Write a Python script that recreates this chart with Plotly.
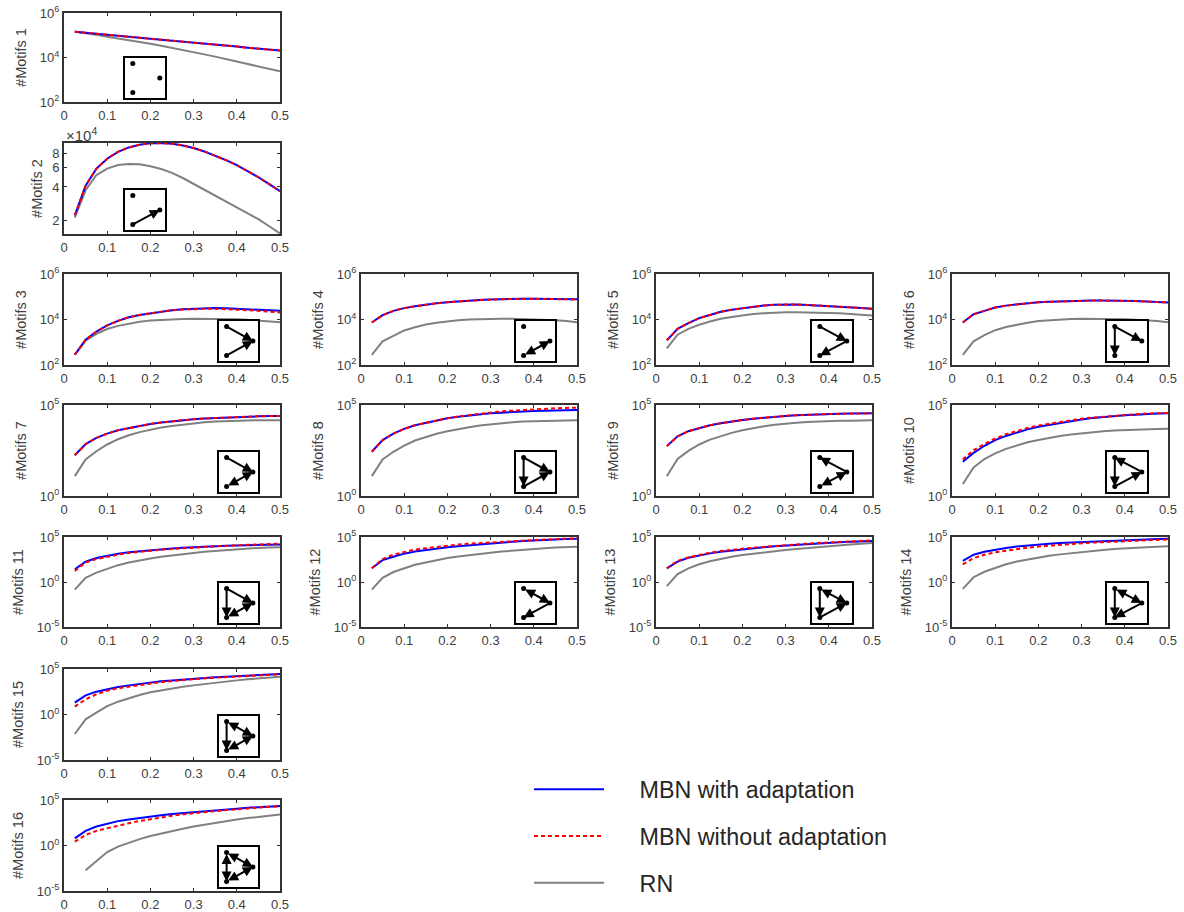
import plotly.graph_objects as go

W, H = 1184, 912

# Density values on the x axis
density = [0.025, 0.05, 0.075, 0.1, 0.125, 0.15, 0.175, 0.2, 0.225, 0.25,
           0.275, 0.3, 0.325, 0.35, 0.375, 0.4, 0.425, 0.45, 0.475, 0.5]

# Motif counts, stored as log10(count)
adapt_1 = [5.16,5.11,5.07,5.02,4.98,4.93,4.89,4.84,4.80,4.76,4.71,4.67,4.62,4.58,4.53,4.49,4.44,4.40,4.35,4.31]
noadapt_1 = [5.16,5.11,5.07,5.02,4.98,4.93,4.89,4.84,4.80,4.76,4.71,4.67,4.62,4.58,4.53,4.49,4.44,4.40,4.35,4.31]
rn_1 = [5.16,5.10,5.02,4.93,4.86,4.79,4.71,4.62,4.53,4.44,4.34,4.24,4.14,4.04,3.93,3.82,3.71,3.60,3.49,3.38]

adapt_2 = [4.346,4.614,4.768,4.858,4.92,4.96,4.985,4.997,4.999,4.994,4.978,4.955,4.923,4.886,4.845,4.80,4.747,4.69,4.628,4.563]
noadapt_2 = [4.346,4.614,4.768,4.858,4.92,4.96,4.985,4.997,4.999,4.994,4.978,4.955,4.923,4.886,4.845,4.80,4.747,4.69,4.628,4.563]
rn_2 = [4.325,4.572,4.71,4.768,4.80,4.81,4.808,4.79,4.765,4.73,4.683,4.63,4.58,4.527,4.474,4.42,4.365,4.31,4.246,4.18]

adapt_3 = [2.45,3.11,3.47,3.74,3.94,4.10,4.20,4.28,4.35,4.41,4.45,4.48,4.50,4.51,4.50,4.48,4.46,4.44,4.41,4.38]
noadapt_3 = [2.45,3.11,3.47,3.74,3.94,4.10,4.20,4.28,4.35,4.41,4.44,4.47,4.47,4.47,4.46,4.44,4.41,4.38,4.35,4.31]
rn_3 = [2.45,3.07,3.37,3.58,3.72,3.82,3.90,3.96,3.99,4.01,4.02,4.03,4.03,4.03,4.02,4.01,3.99,3.96,3.92,3.88]

adapt_4 = [3.87,4.19,4.38,4.50,4.58,4.66,4.71,4.76,4.80,4.83,4.86,4.88,4.90,4.91,4.91,4.91,4.91,4.91,4.90,4.89]
noadapt_4 = [3.87,4.19,4.38,4.50,4.58,4.66,4.71,4.76,4.80,4.83,4.86,4.88,4.90,4.91,4.91,4.91,4.91,4.90,4.89,4.88]
rn_4 = [2.45,3.04,3.28,3.52,3.66,3.78,3.86,3.93,3.97,4.00,4.02,4.03,4.03,4.03,4.02,4.01,3.99,3.97,3.93,3.88]

adapt_5 = [3.08,3.59,3.84,4.06,4.20,4.34,4.43,4.50,4.57,4.62,4.65,4.67,4.66,4.64,4.62,4.60,4.57,4.54,4.51,4.47]
noadapt_5 = [3.08,3.59,3.84,4.06,4.20,4.34,4.43,4.50,4.57,4.62,4.65,4.67,4.66,4.64,4.62,4.60,4.57,4.54,4.51,4.47]
rn_5 = [2.73,3.33,3.59,3.77,3.91,4.03,4.11,4.18,4.24,4.28,4.31,4.32,4.32,4.32,4.31,4.29,4.27,4.25,4.22,4.18]

adapt_6 = [3.87,4.23,4.38,4.53,4.61,4.67,4.72,4.76,4.78,4.80,4.82,4.83,4.83,4.83,4.83,4.82,4.81,4.79,4.77,4.75]
noadapt_6 = [3.87,4.23,4.38,4.53,4.61,4.67,4.72,4.76,4.78,4.80,4.82,4.83,4.83,4.83,4.83,4.82,4.81,4.79,4.77,4.75]
rn_6 = [2.45,3.04,3.31,3.53,3.67,3.78,3.86,3.93,3.97,4.00,4.02,4.03,4.03,4.03,4.02,4.01,3.99,3.97,3.93,3.88]

adapt_7 = [2.24,2.85,3.19,3.43,3.61,3.74,3.86,3.96,4.04,4.11,4.17,4.22,4.26,4.29,4.32,4.34,4.36,4.38,4.39,4.40]
noadapt_7 = [2.24,2.85,3.19,3.43,3.61,3.74,3.86,3.96,4.04,4.11,4.17,4.22,4.26,4.29,4.32,4.34,4.36,4.38,4.39,4.40]
rn_7 = [1.09,2.01,2.46,2.83,3.12,3.34,3.51,3.65,3.76,3.85,3.93,3.99,4.05,4.09,4.12,4.14,4.15,4.16,4.16,4.16]

adapt_8 = [2.43,3.07,3.43,3.69,3.89,4.03,4.16,4.27,4.36,4.43,4.49,4.54,4.58,4.62,4.65,4.67,4.69,4.71,4.72,4.73]
noadapt_8 = [2.43,3.07,3.43,3.69,3.89,4.03,4.16,4.27,4.37,4.45,4.53,4.60,4.65,4.69,4.73,4.76,4.79,4.82,4.84,4.85]
rn_8 = [1.09,2.01,2.43,2.77,3.05,3.25,3.42,3.56,3.68,3.78,3.87,3.94,4.00,4.05,4.09,4.12,4.13,4.14,4.15,4.16]

adapt_9 = [2.74,3.28,3.56,3.74,3.89,4.00,4.10,4.18,4.25,4.31,4.36,4.40,4.44,4.47,4.49,4.51,4.52,4.53,4.54,4.54]
noadapt_9 = [2.74,3.28,3.56,3.74,3.89,4.00,4.10,4.18,4.25,4.31,4.36,4.40,4.44,4.47,4.49,4.51,4.52,4.53,4.54,4.54]
rn_9 = [1.09,2.03,2.48,2.83,3.10,3.30,3.47,3.61,3.73,3.83,3.91,3.98,4.03,4.07,4.10,4.12,4.13,4.14,4.15,4.16]

adapt_10 = [1.88,2.37,2.76,3.07,3.30,3.50,3.66,3.80,3.91,4.01,4.11,4.20,4.28,4.34,4.39,4.43,4.47,4.51,4.53,4.54]
noadapt_10 = [2.01,2.52,2.86,3.16,3.39,3.58,3.74,3.87,3.97,4.07,4.16,4.25,4.31,4.36,4.41,4.45,4.49,4.53,4.55,4.56]
rn_10 = [0.66,1.57,2.03,2.34,2.59,2.79,2.95,3.08,3.20,3.30,3.38,3.45,3.51,3.56,3.60,3.63,3.65,3.67,3.68,3.69]

adapt_11 = [1.42,2.25,2.66,2.92,3.15,3.30,3.42,3.53,3.63,3.72,3.80,3.87,3.93,3.98,4.02,4.06,4.10,4.13,4.15,4.17]
noadapt_11 = [1.23,2.17,2.55,2.81,3.04,3.23,3.37,3.49,3.59,3.68,3.76,3.83,3.91,3.98,4.04,4.09,4.13,4.17,4.21,4.25]
rn_11 = [-0.85,0.47,1.04,1.49,1.87,2.17,2.41,2.62,2.80,2.96,3.10,3.23,3.35,3.45,3.55,3.64,3.72,3.79,3.83,3.87]

adapt_12 = [1.53,2.43,2.81,3.15,3.38,3.57,3.73,3.87,3.98,4.09,4.21,4.32,4.40,4.47,4.55,4.62,4.68,4.74,4.78,4.81]
noadapt_12 = [1.53,2.55,3.04,3.34,3.60,3.75,3.91,4.06,4.16,4.25,4.33,4.40,4.48,4.55,4.61,4.66,4.72,4.77,4.81,4.85]
rn_12 = [-0.85,0.47,1.11,1.53,1.91,2.17,2.43,2.66,2.84,3.00,3.14,3.26,3.38,3.49,3.59,3.68,3.76,3.83,3.87,3.91]

adapt_13 = [1.52,2.27,2.69,2.95,3.18,3.37,3.51,3.64,3.75,3.86,3.96,4.05,4.13,4.20,4.28,4.36,4.42,4.47,4.51,4.55]
noadapt_13 = [1.52,2.35,2.73,3.03,3.26,3.45,3.59,3.71,3.81,3.90,4.00,4.09,4.19,4.28,4.34,4.39,4.45,4.51,4.57,4.62]
rn_13 = [-0.45,0.87,1.52,1.97,2.31,2.58,2.80,2.99,3.15,3.30,3.43,3.56,3.68,3.79,3.89,3.98,4.08,4.17,4.25,4.32]

adapt_14 = [2.35,3.03,3.37,3.60,3.79,3.94,4.06,4.17,4.25,4.32,4.38,4.43,4.49,4.55,4.61,4.66,4.70,4.73,4.77,4.81]
noadapt_14 = [1.97,2.65,3.03,3.30,3.48,3.67,3.81,3.94,4.04,4.13,4.23,4.32,4.38,4.43,4.49,4.55,4.61,4.66,4.70,4.73]
rn_14 = [-0.76,0.53,1.14,1.59,1.97,2.27,2.51,2.73,2.91,3.07,3.21,3.33,3.45,3.56,3.66,3.75,3.81,3.86,3.92,3.98]

adapt_15 = [1.30,2.11,2.51,2.80,3.02,3.20,3.37,3.53,3.65,3.75,3.85,3.94,4.01,4.08,4.16,4.23,4.31,4.38,4.42,4.45]
noadapt_15 = [0.86,1.67,2.22,2.62,2.88,3.06,3.25,3.42,3.56,3.68,3.80,3.90,3.98,4.05,4.12,4.19,4.25,4.30,4.36,4.41]
rn_15 = [-2.14,-0.53,0.20,0.93,1.41,1.81,2.14,2.44,2.67,2.88,3.05,3.20,3.35,3.50,3.63,3.75,3.86,3.97,4.07,4.16]

adapt_16 = [0.79,1.61,2.08,2.42,2.68,2.86,3.04,3.19,3.33,3.45,3.56,3.67,3.77,3.86,3.95,4.04,4.14,4.23,4.29,4.34]
noadapt_16 = [0.42,1.16,1.61,1.90,2.20,2.45,2.69,2.90,3.09,3.27,3.42,3.56,3.67,3.78,3.89,4.00,4.10,4.19,4.25,4.30]
rn_16 = [None,-2.71,-1.72,-0.72,-0.13,0.31,0.70,1.05,1.34,1.61,1.85,2.08,2.29,2.49,2.68,2.86,3.01,3.15,3.28,3.41]

series_names = ["MBN with adaptation", "MBN without adaptation", "RN"]
x_ticks = [0, 0.1, 0.2, 0.3, 0.4, 0.5]
x_ticktext = ["0", "0.1", "0.2", "0.3", "0.4", "0.5"]

# y axis settings by group of motifs
ticks_a = [2, 4, 6]      # motifs 1, 3-6: exponent ticks
ticks_b = [0, 5]         # motifs 7-10
ticks_c = [-5, 0, 5]     # motifs 11-16
ticks_m2 = [2e4, 4e4, 6e4, 8e4]
ticktext_m2 = ["2", "4", "6", "8"]
log_range_m2 = [4.176, 5.0]

# Motif graphs: nodes A (top), B (bottom), C (right); edge = (from, to, both ways?)
node_x = {"A": 0.195, "B": 0.195, "C": 0.87}
node_y = {"A": 0.86, "B": 0.14, "C": 0.5}
edges = {
    1: [],
    2: [("B", "C", False)],
    3: [("A", "C", False), ("B", "C", False)],
    4: [("B", "C", True)],
    5: [("A", "C", False), ("C", "B", False)],
    6: [("A", "B", False), ("A", "C", False)],
    7: [("A", "C", False), ("B", "C", True)],
    8: [("A", "B", False), ("A", "C", False), ("B", "C", False)],
    9: [("C", "A", False), ("B", "C", True)],
    10: [("C", "A", False), ("A", "B", False), ("B", "C", False)],
    11: [("A", "B", False), ("A", "C", False), ("B", "C", True)],
    12: [("A", "C", True), ("C", "B", False)],
    13: [("A", "C", True), ("A", "B", False), ("B", "C", False)],
    14: [("A", "C", True), ("A", "B", False), ("C", "B", False)],
    15: [("A", "C", True), ("A", "B", False), ("B", "C", True)],
    16: [("A", "C", True), ("A", "B", True), ("B", "C", True)],
}

# Layout, in page pixels
col_x = [(64, 280), (361, 577), (656, 872), (952, 1168)]
row_y = [(13, 102), (143, 234), (274, 365), (405, 496), (537, 627), (669, 760), (800, 891)]
panel_place = {1: (0, 0), 2: (0, 1), 3: (0, 2), 4: (1, 2), 5: (2, 2), 6: (3, 2),
               7: (0, 3), 8: (1, 3), 9: (2, 3), 10: (3, 3),
               11: (0, 4), 12: (1, 4), 13: (2, 4), 14: (3, 4), 15: (0, 5), 16: (0, 6)}
inset_x = [(219, 258), (516, 555), (812, 852), (1107, 1147)]
inset_bottom_gap = 4
inset_size_y = 40

TEXT = "#404040"
AXIS = "#333333"
FONT = "Liberation Sans, Arial, sans-serif"
COLORS = ["#0000ff", "#ff0000", "#808080"]
DASHES = ["solid", "4px,3px", "solid"]
DRAW_ORDER = [2, 0, 1]
LEGEND_PAD = "\u00a0" * 4 + "\u2009"


def px_dom_x(a, b):
    return [a / W, b / W]


def px_dom_y(a, b):
    return [1 - b / H, 1 - a / H]


fig = go.Figure()
layout = {}
annotations = []
table = globals()

for m in range(1, 17):
    col, row = panel_place[m]
    suffix = str(m)
    vals = [table[f"adapt_{m}"], table[f"noadapt_{m}"], table[f"rn_{m}"]]
    for s in DRAW_ORDER:
        fig.add_trace(go.Scatter(
            x=density,
            y=[None if v is None else 10 ** v for v in vals[s]],
            mode="lines",
            name=LEGEND_PAD + series_names[s],
            legendgroup=series_names[s],
            legendrank=s + 1,
            showlegend=m == 1,
            hoverinfo="skip",
            line=dict(color=COLORS[s], width=2, dash=DASHES[s]),
            xaxis="x" + suffix, yaxis="y" + suffix,
        ))

    layout["xaxis" + suffix] = dict(
        domain=px_dom_x(*col_x[col]), anchor="y" + suffix, range=[0, 0.5], automargin=False,
        tickmode="array", tickvals=x_ticks, ticktext=x_ticktext,
        ticks="inside", ticklen=3, tickwidth=1, tickcolor=AXIS,
        showline=True, linewidth=2, linecolor=AXIS, mirror="ticks",
        showgrid=False, zeroline=False,
        tickfont=dict(size=13, color=TEXT, family=FONT),
    )
    if m == 2:
        yrange, yvals, ytext = log_range_m2, ticks_m2, ticktext_m2
    else:
        exps = ticks_a if m <= 6 else ticks_b if m <= 10 else ticks_c
        yrange = [exps[0], exps[-1]]
        yvals = [10 ** e for e in exps]
        ytext = [f"10<sup>{e}</sup>" for e in exps]
    layout["yaxis" + suffix] = dict(
        domain=px_dom_y(*row_y[row]), anchor="x" + suffix, type="log", range=yrange, automargin=False,
        tickmode="array", tickvals=yvals, ticktext=ytext,
        ticks="inside", ticklen=3, tickwidth=1, tickcolor=AXIS,
        showline=True, linewidth=2, linecolor=AXIS, mirror="ticks",
        showgrid=False, zeroline=False,
        tickfont=dict(size=13, color=TEXT, family=FONT),
        title=dict(text=f"#Motifs {m}", standoff=6 if m == 2 else 10,
                   font=dict(size=14.5, color=TEXT, family=FONT)),
    )

    # Inset motif graph
    ix = str(m + 16)
    bottom = row_y[row][1] - inset_bottom_gap
    layout["xaxis" + ix] = dict(
        domain=px_dom_x(*(inset_x[col] if m > 2 else (125, 165))),
        anchor="y" + ix, range=[0, 1], showticklabels=False, ticks="", automargin=False,
        showline=True, linewidth=2, linecolor="#000000", mirror=True,
        showgrid=False, zeroline=False,
    )
    layout["yaxis" + ix] = dict(
        domain=px_dom_y(bottom - inset_size_y, bottom),
        anchor="x" + ix, range=[0, 1], showticklabels=False, ticks="", automargin=False,
        showline=True, linewidth=2, linecolor="#000000", mirror=True,
        showgrid=False, zeroline=False,
    )
    fig.add_trace(go.Scatter(
        x=list(node_x.values()), y=list(node_y.values()),
        mode="markers", marker=dict(color="#000000", size=5),
        showlegend=False, hoverinfo="skip", xaxis="x" + ix, yaxis="y" + ix,
    ))
    for a, b, both in edges[m]:
        annotations.append(dict(
            x=node_x[b], y=node_y[b], ax=node_x[a], ay=node_y[a],
            xref="x" + ix, yref="y" + ix, axref="x" + ix, ayref="y" + ix,
            text="", showarrow=True, arrowhead=2, arrowsize=1.0, arrowwidth=2,
            arrowcolor="#000000", arrowside="end+start" if both else "end",
            standoff=0, startstandoff=0,
        ))

annotations.append(dict(
    text="\u00d710<sup>4</sup>", x=0, y=1, xref="x2 domain", yref="y2 domain",
    xanchor="left", yanchor="bottom", showarrow=False, yshift=-3,
    font=dict(size=15, color=TEXT, family=FONT),
))

fig.update_layout(
    width=W, height=H, margin=dict(l=0, r=0, t=0, b=0),
    paper_bgcolor="#ffffff", plot_bgcolor="#ffffff",
    font=dict(family=FONT, color=TEXT),
    annotations=annotations,
    legend=dict(
        x=529 / W, y=1 - 767.5 / H, xanchor="left", yanchor="top",
        itemwidth=70, tracegroupgap=13.5, bgcolor="rgba(0,0,0,0)",
        font=dict(size=23.3, color="#262626", family=FONT),
    ),
    **layout,
)

fig.write_html("out.html", config={"displayModeBar": False},
               post_script="document.body.style.margin='0';")
